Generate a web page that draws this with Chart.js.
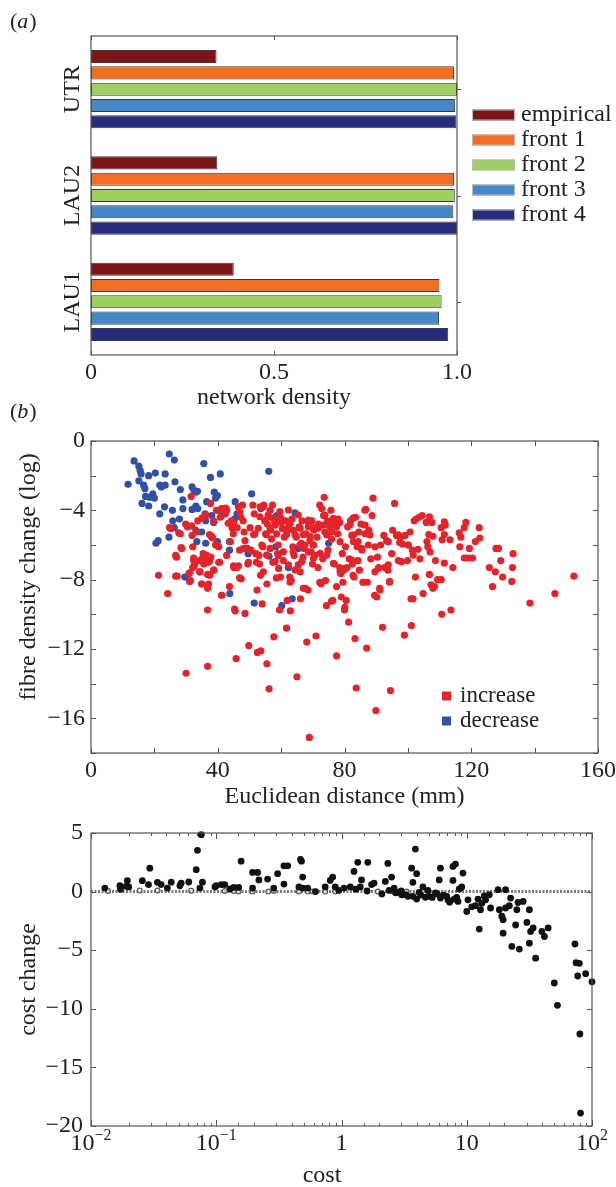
<!DOCTYPE html>
<html>
<head>
<meta charset="utf-8">
<script src="https://cdn.jsdelivr.net/npm/chart.js@4.4.0/dist/chart.umd.min.js"></script>
<style>
  html, body { margin: 0; padding: 0; background: #fff; }
  body { width: 616px; height: 1187px; overflow: hidden; position: relative; }
  canvas { position: absolute; left: 0; }
</style>
</head>
<body>
<canvas id="densityChart" width="616" height="415" style="top:0"></canvas>
<canvas id="fibreChart" width="616" height="412" style="top:400px"></canvas>
<canvas id="costChart" width="616" height="387" style="top:800px"></canvas>
<script>
// ---- panel (a): network density per region ----
const regions = ['UTR', 'LAU2', 'LAU1'];
const seriesNames = ['empirical', 'front 1', 'front 2', 'front 3', 'front 4'];
const empirical = [0.343, 0.345, 0.39];
const front1 = [0.992, 0.992, 0.952];
const front2 = [1.0, 0.994, 0.958];
const front3 = [0.995, 0.990, 0.951];
const front4 = [0.998, 1.0, 0.976];
const densityTicks = ['0', '0.5', '1.0'];

// ---- panel (b): fibre density change vs distance, [mm, log change] ----
const decreasePts = [
  [11.7,-2.5],[13.6,-1.15],[15.1,-1.45],[15.5,-1.7],[15.8,-1.9],[15.1,-2.3],[16.6,-2.55],[17,-2.75],[16.1,-3.6],
  [17.2,-3.2],[18.2,-3.75],[18.5,-3.25],[19.5,-3.05],[20,-3.3],[18.2,-2.0],[20.3,-1.85],[21.7,-2.55],[22.2,-2.65],
  [21.7,-4.2],[20.5,-5.9],[21.2,-5.75],[23.4,-1.9],[23.4,-2.55],[23.2,-3.8],[24.7,-0.75],[26.3,-1.1],[26.5,-2.35],
  [25.7,-4.0],[25.8,-4.6],[24.6,-5.55],[28.2,-2.8],[29,-3.4],[29,-3.9],[26.3,-5.0],[27.9,-4.5],[31.9,-2.65],
  [32.5,-2.85],[33.1,-2.95],[33.6,-2.9],[31.9,-3.95],[33.1,-3.75],[33.7,-3.9],[33.1,-5.15],[34.9,-5.25],[35.6,-1.3],
  [36,-4.2],[36.2,-4.6],[36.5,-3.5],[37.7,-2.1],[38.1,-4.3],[38.7,-4.7],[38.9,-2.95],[39.9,-3.15],[39.3,-3.3],
  [40.8,-1.9],[33.4,-5.8],[36.2,-5.9],[38.1,-5.5],[39.9,-5.8],[41.2,-4.3],[29.6,-7.85],[43.7,-5.8],[43.7,-6.3],
  [43.8,-8.8],[45.5,-3.5],[45.3,-4.5],[46.1,-4.2],[50.7,-3.05],[49.6,-6.5],[51.5,-9.35],[53.6,-3.9],[56.1,-1.75],
  [56.2,-6.65],[58.3,-6.1],[58.6,-4.3],[60.2,-9.5],[62.3,-7.3],[63.5,-9.1],[64.4,-4.15],[65.4,-6.2],[75,-5.9]
];
const increasePts = [
  [21.3,-7.75],[24.2,-8.8],[25.3,-5.05],[27,-6.7],[27.2,-7.8],[28.2,-5.35],[28.4,-6.15],[30,-13.4],[30.4,-4.95],
  [30.9,-7.65],[31.4,-8.05],[31.6,-3.2],[31.9,-5.45],[32.1,-6.1],[32.4,-6.75],[32.7,-7.1],[32.5,-7.25],[33.7,-4.6],
  [34.4,-7.55],[34.6,-6.9],[35,-8.25],[35.4,-6.5],[35.6,-7.1],[36.2,-6.75],[36.8,-9.75],[36.8,-13],[37.1,-8.25],
  [37.5,-7.75],[37.5,-6.9],[37.8,-6.7],[38.1,-5.55],[38.7,-4.6],[38.8,-7.45],[39.3,-6],[39.9,-4],[40.3,-6.1],
  [40.6,-7],[40.8,-4.4],[41.3,-8.9],[41.8,-3.9],[42.4,-4.2],[42.8,-4],[43.3,-4.75],[43.7,-8.4],[44.3,-4.6],
  [44.5,-5],[44.9,-5.35],[45.1,-7.3],[45.5,-9.8],[45.8,-12.55],[46,-7.3],[46.1,-5],[46.5,-3.8],[47,-4.1],
  [47.3,-4.4],[47.4,-7.95],[47.8,-3.7],[48,-4.6],[48.3,-5.25],[48.6,-5.75],[48.6,-9.95],[49.3,-6.2],[49.5,-7.1],
  [49.8,-11.8],[50.2,-5],[50.5,-6.3],[51.1,-3.7],[51.5,-4.2],[51.7,-5.35],[52,-6.5],[52.4,-8.6],[52.5,-12.2],
  [53,-6.6],[53.2,-7.1],[53.5,-7.75],[53.6,-12.1],[54,-9.4],[54.2,-6.1],[54.5,-3.7],[54.8,-4.6],[55.1,-5.35],
  [55.5,-8.25],[55.5,-12.85],[55.7,-4.8],[55.9,-4.4],[56.2,-14.3],[56.5,-4],[56.7,-5.15],[57,-5.65],[57.3,-3.7],
  [57.4,-7],[57.7,-11.3],[57.9,-4.6],[58.2,-4.85],[58.6,-5.35],[58.9,-6.5],[59.2,-7.35],[59.5,-9.75],[59.8,-4.4],
  [59.8,-7.85],[60.4,-5.05],[60.7,-6.9],[61,-5.55],[61.4,-4.6],[61.7,-10.8],[61.9,-9.2],[62.3,-4.95],[62.7,-7.85],
  [62.9,-9.8],[63.2,-8.05],[63.4,-4.5],[63.7,-6.1],[63.9,-5.15],[64.1,-6.6],[64.8,-5.55],[65,-13.6],[65.4,-7.15],
  [65.7,-4.95],[66,-7.55],[66.1,-9.1],[66.4,-5.9],[66.6,-4.6],[66.9,-6.7],[67.2,-6.2],[67.6,-8.5],[67.9,-5.35],
  [68.1,-11.6],[68.5,-8.6],[68.6,-4.95],[68.9,-17.1],[69.1,-5.75],[69.4,-6.4],[69.7,-4.6],[69.9,-7.1],[70.1,-6],
  [70.3,-5.15],[70.6,-6.6],[71,-11.25],[71.3,-5.55],[71.6,-7.3],[71.8,-4.8],[72.2,-3.7],[72.6,-8.25],[72.8,-3.9],
  [73.1,-6.8],[73.4,-4.3],[73.6,-3.25],[73.8,-5.25],[74,-8.05],[74.3,-9.5],[74.6,-4.6],[74.8,-6.3],[75.3,-4.95],
  [75.7,-4],[75.9,-5.65],[76.3,-9.2],[76.6,-4.5],[76.8,-7.1],[77.2,-4.8],[77.5,-8.4],[77.5,-12.4],[77.8,-5.35],
  [78,-4.5],[78.5,-4.7],[78.8,-7.65],[79,-9],[79.3,-6.5],[79.7,-7.45],[80,-9.75],[80.3,-6.1],[80.5,-9.2],
  [80.8,-7.3],[81,-4.95],[81.3,-10.45],[81.5,-6.8],[81.9,-4.6],[82.3,-5.45],[82.5,-7.1],[82.8,-5.8],[83,-7.85],
  [83.3,-11.4],[83.5,-4.4],[83.7,-14.25],[84,-6.1],[84.2,-6.9],[84.5,-5.25],[84.7,-7.45],[85.2,-4.8],[85.5,-6.3],
  [86,-8.15],[86.5,-5.35],[86.7,-3.95],[87,-11.95],[87.2,-8.15],[87.5,-6],[87.7,-5.15],[88.3,-6.8],[88.7,-4.3],
  [89,-3.3],[89.6,-7.55],[89.9,-15.55],[90.2,-9],[90.4,-6.7],[90.8,-7.3],[91.2,-8.6],[91.4,-6],[92,-10.75],
  [92.4,-5.45],[92.7,-7.3],[93.3,-5.75],[93.7,-7.45],[94.2,-8.1],[94.5,-14.4],[94.9,-6.5],[95.2,-5.15],[95.8,-3.6],
  [96.4,-5.45],[97,-6.9],[97.4,-5.85],[97.6,-5.55],[98.3,-5.95],[98.9,-11.2],[99.1,-5.45],[99.9,-6.9],[100.1,-6],
  [100.7,-5.25],[101.1,-10.65],[101.4,-6.3],[101.6,-9.1],[102,-4.6],[102.4,-7.85],[102.6,-4.5],[103.2,-6.25],
  [103.6,-4.4],[103.8,-6.8],[104.5,-4.3],[104.8,-8.8],
  [37.7,-3.6],[39.6,-4],[41.2,-3.9],[42.5,-3.87],[24.8,-5.0],[29.9,-4.8],[31.8,-4.9],[27.7,-5.3],[33.3,-5.25],
  [35,-4.45],[36.2,-4.27],[37.4,-5.4],[38.4,-5.6],[39.6,-6],[26.7,-6.6],[28.6,-6.2],[32.4,-6.9],[32.1,-7.3],
  [34.3,-6.9],[35.2,-6.75],[36.5,-6.6],[37.1,-7],[40.3,-7],[31.1,-7.6],[34.3,-7.55],[36.8,-7.7],[38.7,-7.45],
  [26.7,-7.8],[31.1,-8.1],[34.9,-8.25],[36.8,-8.5],[41.2,-8.9],[45.3,-9.7],[45,-4.7],[44,-5.8],[46.9,-6.3],
  [45,-7.2],[46.5,-7.2],[42.8,-6.6],[46.9,-7.9],[48.1,-6.2],[49.7,-7],[51.3,-5.4],
  [73.8,-4.27],[75.5,-4.7],[77.4,-4.85],[82.7,-4.45],[86.4,-4],[68.6,-4.7],[70.1,-5],[67,-5.4],[65.9,-6],
  [63.8,-6.4],[61.7,-5.4],[60.1,-4.7],[57.5,-4.45],[54.4,-3.8],[53.4,-3.8],[55.3,-5.4],[56.5,-6.2],[59.1,-6.6],
  [52.2,-7],[54.4,-7.55],[58.5,-7.9],[62.8,-8.15],[67,-8.5],[72.2,-8.15],[78.5,-7.3],[79.5,-8.15],[82.7,-7.75],
  [85.8,-8.15],[91.1,-8.5],[94.2,-8.15],[89.5,-8.9],[101,-9.1],[80.1,-9.6],[75.9,-9.25],
  [55.9,-4.27],[56.5,-5.04],[61.8,-5.23],[62.8,-4.75],[64.4,-5.42],[66,-5.04],[67.5,-6.0],[69.1,-5.52],[70.2,-6.0],
  [71.7,-5.04],[73.3,-4.85],[74.4,-5.42],[76,-5.23],[77.5,-4.94],[78.6,-5.81],[81.7,-4.85],[82.8,-5.42],[84.3,-5.81],
  [85.4,-6.19],[82.3,-6.87],[80.2,-7.35],[78.6,-7.54],[76.5,-7.06],[74.4,-6.58],[72.3,-6.48],[70.2,-6.77],[68.6,-6.39],
  [66.5,-6.96],[64.4,-7.44],[62.3,-7.15],[60.7,-6.39],[59.1,-6.0],[58.1,-6.96],[55.4,-6.58],[53.9,-6.0],[52.8,-5.04],
  [53.3,-4.37],[59.6,-4.08],[62.3,-3.98],[65.4,-4.27],[68.6,-4.56],[76.5,-4.46],[86.5,-4.85],[88,-5.42],[89.6,-6.1],
  [93.8,-5.81],[97,-5.42],[100.1,-6.0],[101.7,-6.58],[98,-6.96],[93.8,-7.15],[90.7,-7.35],
  [106.8,-4.37],[105.8,-4.7],[107.6,-4.7],[106.6,-5.4],[107.9,-5.5],[106,-5.8],[106.3,-6.1],[107,-6.4],[108.7,-6.9],
  [106.8,-7.7],[107.3,-8.3],[108.4,-8.4],[107.9,-8.5],[109.4,-8],[110.5,-8],[111.5,-7.05],[111.5,-4.67],[110.5,-5],
  [111.8,-4.85],[111.5,-5.4],[110.8,-5.7],[113.3,-5.7],[114.2,-7.3],[110.7,-10],[113.6,-9.75],[116.2,-5.3],
  [116.7,-5.55],[116.4,-6.1],[117.8,-5],[118.3,-4.7],[117.8,-6.75],[118.9,-6.75],[120.4,-6.75],[119.4,-6.2],
  [121.3,-5.8],[122.5,-5],[122.7,-5.6],[125.7,-7.3],[127.8,-6.2],[128.6,-6.2],[129.3,-6.9],[127.6,-7.55],
  [129.9,-7.85],[126.7,-8.4],[133.2,-6.5],[133,-7.3],[132.8,-8.1],[138.5,-9.35],[146.4,-8.8],[152.4,-7.8]
];
const fibreLegend = ['increase', 'decrease'];

// ---- panel (c): cost change vs cost, [cost, change] ----
const costPts = [
  [0.0129,0.3],[0.017,0.5],[0.0172,0.2],[0.0191,0.45],[0.0195,0.93],[0.02,0.4],[0.0257,0.93],[0.0288,0.6],
  [0.0295,2.0],[0.0339,0.79],[0.0363,0.6],[0.0407,0.3],[0.0437,0.8],[0.0513,0.5],[0.0525,0.73],[0.0603,0.82],
  [0.0692,1.87],[0.0708,3.52],[0.0759,4.86],[0.0776,0.8],[0.0741,0.3],[0.0977,0.4],[0.1,0.5],[0.11,0.6],
  [0.117,0.6],[0.129,0.22],[0.138,0.36],[0.151,0.36],[0.158,2.6],[0.195,1.64],[0.214,1.64],[0.219,1.0],
  [0.195,0.3],[0.257,1.07],[0.288,0.3],[0.309,1.53],[0.347,2.2],[0.372,2.2],[0.347,0.64],[0.479,2.6],
  [0.47,2.75],[0.49,1.24],[0.457,0.4],[0.49,0.3],[0.537,0.3],[0.741,0.4],[0.813,0.95],[0.851,1.24],
  [0.891,0.4],[1.047,0.3],[1.175,0.4],[1.259,1.72],[1.349,2.5],[1.413,0.4],[1.445,1.0],[1.622,2.5],
  [1.738,0.6],[1.82,0.73],[2.239,0.87],[2.344,2.4],[2.512,1.24],[2.63,0.3],[2.818,-0.07],[3.02,-0.27],
  [3.236,-0.27],[3.631,2.0],[3.715,0.79],[3.89,3.63],[3.981,1.53],[3.715,-0.4],[3.981,-0.64],[4.169,-0.07],
  [4.467,0.4],[4.677,-0.48],[5.012,-0.4],[5.623,-0.12],[6.026,1.0],[6.166,2.0],[6.166,-0.55],[6.918,-0.4],
  [7.079,-0.7],[7.762,0.95],[7.762,2.15],[8.128,2.35],[7.943,-0.64],[8.511,-0.84],[8.71,0.22],[9.333,1.58],
  [9.12,0.4],[10,-1.7],[10.23,-0.7],[10.96,-1.3],[11.75,-1.2],[12.3,-0.64],[12.59,-3.2],[12.88,-1.55],
  [13.18,-1.0],[13.8,-0.37],[14.13,-0.7],[15.14,-0.27],[15.49,-1.4],[17.78,0.16],[18.2,-1.55],[19.05,-2.1],
  [19.5,-2.4],[19.5,-3.55],[20.42,0.16],[20.42,-1.4],[21.88,-1.2],[22.39,-0.55],[22.91,-4.68],[24.55,-2.85],
  [25.12,-1.55],[25.7,-0.93],[26.3,-4.9],[28.18,-0.84],[30.2,-2.63],[31.62,-1.55],[31.62,-4.4],[32.36,-3.4],
  [33.88,-3.1],[35.48,-5.68],[39.81,-3.4],[41.69,-3.83],[44.67,-3.1],[50,-7.8],[53,-9.7],[73.1,-4.47],
  [74.5,-6.07],[79.2,-6.12],[76.9,-7.2],[80,-12.15],[81,-18.9],[89,-7.0],[100,-7.7],
  [1.6,0.05],[2.1,-0.2],[2.7,-0.1],[3.4,-0.4],[4.3,-0.3],[5.3,-0.5],[6.5,-0.3],[7.3,-0.9],[8.3,-0.5],
  [1.3,0.2],[0.62,0.0],[0.95,0.1],[2.4,0.1],[3.0,0.05],[5.8,-0.2],[4.9,0.1]
];
const unchangedPts = [
  [0.0137,0.05],[0.0245,0.1],[0.034,0.1],[0.063,0.07],[0.117,0.05],[0.138,0.05],[0.151,0.0],[0.195,0.0],
  [0.26,0.0],[0.288,0.05],[0.457,0.0],[0.537,0.0],[0.589,0.0],[0.74,0.0],[0.89,0.0],[1.95,0.0],[2.6,0.0],[3.3,0.0]
];
const costTicks = [0.01, 0.1, 1, 10, 100];
const costTickBase = ['10', '10', '1', '10', '10'];
const costTickExp = ['\u22122', '\u22121', '', '', '2'];

// ---- look ----
const serif = '"Liberation Serif", "Times New Roman", serif';
const ink = '#222';
const frameColour = '#555';
const barColours = ['#7d1517', '#f26e22', '#9ecf5f', '#4587c9', '#282c7e'];
const fibreColours = ['#e5232a', '#3151a8'];

Chart.defaults.font.family = serif;
Chart.defaults.font.size = 24;
Chart.defaults.color = ink;
Chart.defaults.animation = false;

function minus(v) { return v < 0 ? '\u2212' + Math.abs(v) : String(v); }

function fixBox(w, h) {
  return function (s) {
    if (w !== null) s.width = w;
    if (h !== null) s.height = h;
    s.paddingLeft = 0; s.paddingRight = 0; s.paddingTop = 0; s.paddingBottom = 0;
  };
}

function drawFrame(chart) {
  const { ctx, chartArea: a } = chart;
  ctx.save();
  ctx.strokeStyle = frameColour;
  ctx.lineWidth = 1.2;
  ctx.strokeRect(a.left, a.top, a.right - a.left, a.bottom - a.top);
  ctx.restore();
}

function innerTicksX(chart, scale, lenFor) {
  const { ctx, chartArea: a } = chart;
  ctx.save();
  ctx.strokeStyle = frameColour;
  ctx.lineWidth = 1;
  scale.ticks.forEach(t => {
    const len = lenFor(t.value);
    if (!len) return;
    const x = Math.round(scale.getPixelForValue(t.value)) + 0.5;
    ctx.beginPath();
    ctx.moveTo(x, a.bottom); ctx.lineTo(x, a.bottom - len);
    ctx.moveTo(x, a.top); ctx.lineTo(x, a.top + len);
    ctx.stroke();
  });
  ctx.restore();
}

function innerTicksY(chart, scale, len, leftSide) {
  const { ctx, chartArea: a } = chart;
  ctx.save();
  ctx.strokeStyle = frameColour;
  ctx.lineWidth = 1;
  scale.ticks.forEach((t, i) => {
    const y = Math.round(scale.getPixelForTick(i)) + 0.5;
    ctx.beginPath();
    if (leftSide) { ctx.moveTo(a.left, y); ctx.lineTo(a.left + len, y); }
    ctx.moveTo(a.right, y); ctx.lineTo(a.right - len, y);
    ctx.stroke();
  });
  ctx.restore();
}

function label(ctx, str, x, y, opt) {
  opt = opt || {};
  ctx.save();
  ctx.fillStyle = ink;
  ctx.font = (opt.style || '') + ' ' + (opt.size || 24) + 'px ' + serif;
  ctx.textAlign = opt.align || 'center';
  ctx.textBaseline = opt.baseline || 'middle';
  if (opt.rotate) {
    ctx.translate(x, y);
    ctx.rotate(-Math.PI / 2);
    ctx.fillText(str, 0, 0);
  } else {
    ctx.fillText(str, x, y);
  }
  ctx.restore();
}

function panelTag(ctx, letter, x, y) {
  ctx.save();
  ctx.fillStyle = ink;
  ctx.textBaseline = 'middle';
  ctx.textAlign = 'left';
  ctx.font = '22px ' + serif;
  ctx.fillText('(', x, y);
  let w = ctx.measureText('(').width;
  ctx.font = 'italic 22px ' + serif;
  ctx.fillText(letter, x + w, y);
  w += ctx.measureText(letter).width;
  ctx.font = '22px ' + serif;
  ctx.fillText(')', x + w + 1, y);
  ctx.restore();
}

function toXY(pts) { return pts.map(p => ({ x: p[0], y: p[1] })); }

// ---- (a) ----
const densitySeries = [empirical, front1, front2, front3, front4];

new Chart(document.getElementById('densityChart'), {
  type: 'bar',
  data: {
    labels: regions,
    datasets: densitySeries.map((vals, i) => ({
      label: seriesNames[i],
      data: vals,
      backgroundColor: barColours[i],
      borderColor: '#3a3a3a',
      borderWidth: 1,
      borderSkipped: false,
      categoryPercentage: 0.767,
      barPercentage: 0.8
    }))
  },
  options: {
    indexAxis: 'y',
    responsive: false,
    layout: { padding: { top: 36, right: 159, left: 0, bottom: 0 } },
    plugins: { legend: { display: false }, tooltip: { enabled: false } },
    scales: {
      x: {
        min: 0, max: 1,
        ticks: { stepSize: 0.5, padding: 3, autoSkip: false, callback: (v, i) => densityTicks[i] },
        grid: { display: false, drawTicks: false },
        border: { display: false },
        afterFit: fixBox(null, 60)
      },
      y: {
        ticks: { display: false },
        grid: { display: false, drawTicks: false },
        border: { display: false },
        afterFit: fixBox(91, null)
      }
    }
  },
  plugins: [{
    id: 'densityFrame',
    afterDraw(chart) {
      const { ctx, chartArea: a } = chart;
      const xs = chart.scales.x, ys = chart.scales.y;
      drawFrame(chart);
      innerTicksX(chart, xs, () => 4);
      ctx.save();
      ctx.strokeStyle = frameColour;
      regions.forEach((r, i) => {
        const y = Math.round(ys.getPixelForValue(i)) + 0.5;
        ctx.beginPath(); ctx.moveTo(a.right, y); ctx.lineTo(a.right + 4, y); ctx.stroke();
      });
      ctx.restore();
      regions.forEach((r, i) => label(ctx, r, 73, ys.getPixelForValue(i), { rotate: true }));
      label(ctx, 'network density', (a.left + a.right) / 2, 398);
      // legend
      seriesNames.forEach((name, i) => {
        const y = 115 + i * 25;
        ctx.save();
        ctx.fillStyle = barColours[i];
        ctx.fillRect(472, y - 5.5, 43, 11);
        ctx.strokeStyle = '#bbb';
        ctx.lineWidth = 1;
        ctx.strokeRect(472.5, y - 5, 42, 10);
        ctx.restore();
        label(ctx, name, 521, y, { align: 'left' });
      });
      panelTag(ctx, 'a', 10, 22);
    }
  }]
});

// ---- (b) ----
new Chart(document.getElementById('fibreChart'), {
  type: 'scatter',
  data: {
    datasets: [
      { label: fibreLegend[0], data: toXY(increasePts), backgroundColor: fibreColours[0], pointRadius: 3.6, borderWidth: 0, clip: false },
      { label: fibreLegend[1], data: toXY(decreasePts), backgroundColor: fibreColours[1], pointRadius: 3.6, borderWidth: 0, clip: false }
    ]
  },
  options: {
    responsive: false,
    layout: { padding: { top: 41, right: 18, left: 0, bottom: 0 } },
    plugins: { legend: { display: false }, tooltip: { enabled: false } },
    scales: {
      x: {
        type: 'linear', min: 0, max: 160,
        ticks: { stepSize: 20, padding: 3, autoSkip: false, maxRotation: 0, callback: v => (v % 40 === 0 ? String(v) : '') },
        grid: { display: false, drawTicks: false },
        border: { display: false },
        afterFit: fixBox(null, 59)
      },
      y: {
        min: -18, max: 0,
        ticks: { stepSize: 2, padding: 6, autoSkip: false, callback: v => (v % 4 === 0 ? minus(v) : '') },
        grid: { display: false, drawTicks: false },
        border: { display: false },
        afterFit: fixBox(91, null)
      }
    }
  },
  plugins: [{
    id: 'fibreFrame',
    afterDraw(chart) {
      const { ctx, chartArea: a } = chart;
      drawFrame(chart);
      innerTicksX(chart, chart.scales.x, () => 5);
      innerTicksY(chart, chart.scales.y, 5, true);
      label(ctx, 'Euclidean distance (mm)', (a.left + a.right) / 2, 397);
      label(ctx, 'fibre density change (log)', 29, 177, { rotate: true });
      fibreLegend.forEach((name, i) => {
        const y = 296 + i * 25;
        ctx.save();
        ctx.fillStyle = fibreColours[i];
        ctx.fillRect(442, y - 4.5, 9, 9);
        ctx.restore();
        label(ctx, name, 460, y, { align: 'left', size: 23 });
      });
      panelTag(ctx, 'b', 10, 12);
    }
  }]
});

// ---- (c) ----
new Chart(document.getElementById('costChart'), {
  type: 'scatter',
  data: {
    datasets: [
      { label: 'cost change', data: toXY(costPts), backgroundColor: '#111', pointRadius: 3.4, borderWidth: 0, clip: false },
      { label: 'unchanged', data: toXY(unchangedPts), backgroundColor: 'rgba(255,255,255,0.6)', borderColor: '#555', borderWidth: 1.2, pointRadius: 2.4, clip: false },
      {
        label: 'zero', data: [{ x: costTicks[0], y: 0 }, { x: costTicks[costTicks.length - 1], y: 0 }],
        showLine: true, borderColor: '#7a7a7a', borderWidth: 3, borderDash: [2, 1.5], pointRadius: 0
      }
    ]
  },
  options: {
    responsive: false,
    layout: { padding: { top: 33, right: 24, left: 0, bottom: 0 } },
    plugins: { legend: { display: false }, tooltip: { enabled: false } },
    scales: {
      x: {
        type: 'logarithmic', min: costTicks[0], max: costTicks[costTicks.length - 1],
        ticks: { autoSkip: false, maxRotation: 0, callback: () => '' },
        grid: { display: false, drawTicks: false },
        border: { display: false },
        afterFit: fixBox(null, 61)
      },
      y: {
        min: -20, max: 5,
        ticks: { stepSize: 5, padding: 8, autoSkip: false, callback: v => minus(v) },
        grid: { display: false, drawTicks: false },
        border: { display: false },
        afterFit: fixBox(91, null)
      }
    }
  },
  plugins: [{
    id: 'costFrame',
    afterDraw(chart) {
      const { ctx, chartArea: a } = chart;
      const xs = chart.scales.x;
      drawFrame(chart);
      innerTicksX(chart, xs, v => {
        const e = Math.log10(v);
        return Math.abs(e - Math.round(e)) < 1e-9 ? 6 : 3;
      });
      innerTicksY(chart, chart.scales.y, 5, true);
      costTicks.forEach((v, i) => {
        const px = xs.getPixelForValue(v);
        ctx.save();
        ctx.fillStyle = ink;
        ctx.textAlign = 'left';
        ctx.textBaseline = 'alphabetic';
        ctx.font = '24px ' + serif;
        const bw = ctx.measureText(costTickBase[i]).width;
        ctx.font = '16px ' + serif;
        const ew = costTickExp[i] ? ctx.measureText(costTickExp[i]).width : 0;
        const left = px - (bw + ew) / 2;
        ctx.font = '24px ' + serif;
        ctx.fillText(costTickBase[i], left, 350);
        if (costTickExp[i]) {
          ctx.font = '16px ' + serif;
          ctx.fillText(costTickExp[i], left + bw, 340);
        }
        ctx.restore();
      });
      label(ctx, 'cost', 322, 376);
      label(ctx, 'cost change', 29, (a.top + a.bottom) / 2, { rotate: true });
    }
  }]
});
</script>
</body>
</html>
